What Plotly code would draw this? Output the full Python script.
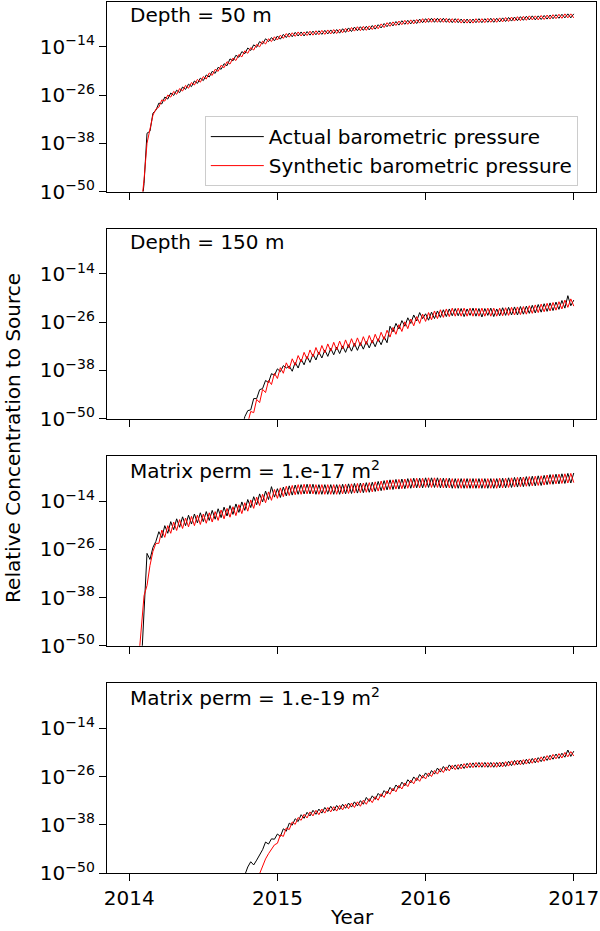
import plotly.graph_objects as go
from plotly.subplots import make_subplots

# sample times (decimal year)
years = [
    2014.00, 2014.02, 2014.04, 2014.06, 2014.08, 2014.10, 2014.12, 2014.14, 2014.16, 2014.18,
    2014.20, 2014.22, 2014.24, 2014.26, 2014.28, 2014.30, 2014.32, 2014.34, 2014.36, 2014.38,
    2014.40, 2014.42, 2014.44, 2014.46, 2014.48, 2014.50, 2014.52, 2014.54, 2014.56, 2014.58,
    2014.60, 2014.62, 2014.64, 2014.66, 2014.68, 2014.70, 2014.72, 2014.74, 2014.76, 2014.78,
    2014.80, 2014.82, 2014.84, 2014.86, 2014.88, 2014.90, 2014.92, 2014.94, 2014.96, 2014.98,
    2015.00, 2015.02, 2015.04, 2015.06, 2015.08, 2015.10, 2015.12, 2015.14, 2015.16, 2015.18,
    2015.20, 2015.22, 2015.24, 2015.26, 2015.28, 2015.30, 2015.32, 2015.34, 2015.36, 2015.38,
    2015.40, 2015.42, 2015.44, 2015.46, 2015.48, 2015.50, 2015.52, 2015.54, 2015.56, 2015.58,
    2015.60, 2015.62, 2015.64, 2015.66, 2015.68, 2015.70, 2015.72, 2015.74, 2015.76, 2015.78,
    2015.80, 2015.82, 2015.84, 2015.86, 2015.88, 2015.90, 2015.92, 2015.94, 2015.96, 2015.98,
    2016.00, 2016.02, 2016.04, 2016.06, 2016.08, 2016.10, 2016.12, 2016.14, 2016.16, 2016.18,
    2016.20, 2016.22, 2016.24, 2016.26, 2016.28, 2016.30, 2016.32, 2016.34, 2016.36, 2016.38,
    2016.40, 2016.42, 2016.44, 2016.46, 2016.48, 2016.50, 2016.52, 2016.54, 2016.56, 2016.58,
    2016.60, 2016.62, 2016.64, 2016.66, 2016.68, 2016.70, 2016.72, 2016.74, 2016.76, 2016.78,
    2016.80, 2016.82, 2016.84, 2016.86, 2016.88, 2016.90, 2016.92, 2016.94, 2016.96, 2016.98,
    2017.00,
]

# log10 of relative concentration to source
actual_50m = [
    None, None, None, None, -55.0, -48.0, -35.5, -35.0, -30.5, -29.8,
    -28.0, -28.2, -26.5, -27.0, -25.5, -26.1, -24.8, -25.4, -24.0, -24.6,
    -23.3, -23.9, -22.5, -23.1, -21.8, -22.4, -21.0, -21.5, -20.1, -20.6,
    -19.1, -19.6, -18.2, -18.7, -17.0, -17.5, -16.1, -16.6, -15.2, -15.7,
    -14.3, -14.9, -13.5, -14.1, -12.7, -13.3, -12.0, -12.7, -11.7, -12.5,
    -11.3, -12.1, -10.9, -11.7, -10.6, -11.5, -10.4, -11.3, -10.3, -11.3,
    -10.2, -11.1, -10.1, -11.0, -10.0, -10.9, -9.9, -10.8, -9.8, -10.7,
    -9.7, -10.6, -9.5, -10.4, -9.3, -10.2, -9.1, -10.0, -9.0, -9.9,
    -8.9, -9.8, -8.7, -9.6, -8.5, -9.3, -8.2, -9.0, -7.9, -8.8,
    -7.7, -8.6, -7.5, -8.4, -7.4, -8.3, -7.3, -8.2, -7.1, -8.0,
    -7.0, -7.9, -6.9, -7.9, -6.9, -7.9, -6.9, -7.9, -7.0, -8.0,
    -7.0, -8.0, -7.1, -8.1, -7.1, -8.1, -7.1, -8.0, -7.0, -8.0,
    -7.0, -7.9, -6.9, -7.9, -6.9, -7.8, -6.8, -7.7, -6.7, -7.6,
    -6.6, -7.5, -6.5, -7.4, -6.4, -7.3, -6.3, -7.3, -6.3, -7.2,
    -6.2, -7.1, -6.1, -7.0, -6.0, -6.9, -5.9, -6.8, -5.8, -6.8,
    -5.8,
]
synthetic_50m = [
    None, None, None, None, -54.0, -47.0, -38.0, -34.0, -31.0, -29.5,
    -29.0, -27.2, -27.5, -26.0, -26.5, -25.1, -25.8, -24.4, -25.0, -23.6,
    -24.3, -22.9, -23.5, -22.1, -22.8, -21.4, -22.0, -20.5, -21.1, -19.6,
    -20.1, -18.6, -19.2, -17.7, -18.3, -16.8, -17.4, -15.9, -16.5, -15.0,
    -15.6, -14.2, -14.8, -13.4, -14.0, -12.6, -13.3, -12.0, -12.7, -11.5,
    -12.3, -11.1, -11.9, -10.7, -11.6, -10.5, -11.4, -10.3, -11.3, -10.3,
    -11.2, -10.1, -11.1, -10.0, -11.0, -9.9, -10.9, -9.8, -10.8, -9.7,
    -10.7, -9.6, -10.5, -9.4, -10.3, -9.2, -10.1, -9.0, -10.0, -8.9,
    -9.9, -8.8, -9.7, -8.6, -9.5, -8.3, -9.2, -8.0, -8.9, -7.8,
    -8.7, -7.6, -8.5, -7.4, -8.4, -7.3, -8.3, -7.2, -8.1, -7.0,
    -8.0, -6.9, -7.9, -6.9, -7.9, -6.9, -7.9, -6.9, -8.0, -7.0,
    -8.0, -7.0, -8.1, -7.1, -8.1, -7.1, -8.1, -7.0, -8.0, -7.0,
    -8.0, -6.9, -7.9, -6.9, -7.9, -6.8, -7.8, -6.7, -7.7, -6.6,
    -7.6, -6.5, -7.5, -6.4, -7.4, -6.3, -7.3, -6.3, -7.3, -6.2,
    -7.2, -6.1, -7.1, -6.0, -7.0, -5.9, -6.9, -5.8, -6.8, -5.8,
    -6.8,
]

actual_150m = [
    None, None, None, None, None, None, None, None, None, None,
    None, None, None, None, None, None, None, None, None, None,
    None, None, None, None, None, None, None, None, None, None,
    None, None, None, None, None, None, None, None, -52.5, -49.5,
    -48.0, -47.8, -45.0, -45.0, -42.8, -42.5, -40.5, -41.0, -38.8, -39.2,
    -37.6, -38.3, -36.8, -37.4, -36.9, -38.2, -36.0, -37.4, -35.2, -36.6,
    -34.5, -36.0, -33.9, -35.4, -33.4, -34.9, -32.9, -34.5, -32.5, -34.1,
    -32.2, -33.8, -31.9, -33.5, -31.6, -33.2, -31.3, -33.0, -31.1, -32.7,
    -30.8, -32.4, -30.5, -32.1, -30.1, -31.6, -29.6, -31.1, -27.0, -28.4,
    -26.3, -27.7, -25.6, -27.0, -24.9, -26.3, -24.2, -25.7, -23.6, -25.1,
    -23.9, -25.5, -23.5, -25.1, -23.2, -24.8, -22.9, -24.6, -22.7, -24.4,
    -22.6, -24.4, -22.6, -24.6, -22.7, -24.3, -22.5, -24.5, -22.6, -24.7,
    -22.6, -24.3, -22.5, -24.6, -22.7, -24.4, -22.4, -24.3, -22.3, -24.2,
    -22.2, -24.2, -22.1, -24.0, -22.0, -23.8, -21.8, -23.7, -21.6, -23.5,
    -21.4, -23.3, -21.2, -23.1, -21.0, -22.8, -20.6, -22.5, -19.4, -21.9,
    -20.5,
]
synthetic_150m = [
    None, None, None, None, None, None, None, None, None, None,
    None, None, None, None, None, None, None, None, None, None,
    None, None, None, None, None, None, None, None, None, None,
    None, None, None, None, None, None, None, None, None, None,
    -51.0, -48.2, -48.5, -45.2, -46.0, -42.7, -43.5, -40.5, -41.5, -38.7,
    -40.0, -37.3, -38.7, -36.1, -37.6, -35.1, -36.7, -34.3, -35.9, -33.5,
    -35.2, -32.9, -34.6, -32.3, -34.1, -31.8, -33.6, -31.4, -33.2, -31.0,
    -32.9, -30.7, -32.6, -30.4, -32.3, -30.1, -32.0, -29.9, -31.8, -29.6,
    -31.5, -29.3, -31.2, -29.0, -30.8, -28.5, -30.3, -28.0, -29.7, -27.3,
    -29.0, -26.6, -28.3, -25.9, -27.6, -25.2, -26.9, -24.6, -26.3, -24.0,
    -25.8, -23.6, -25.4, -23.2, -25.1, -22.9, -24.8, -22.7, -24.6, -22.5,
    -24.5, -22.5, -24.5, -22.5, -24.5, -22.5, -24.5, -22.5, -24.5, -22.5,
    -24.5, -22.5, -24.5, -22.5, -24.5, -22.5, -24.4, -22.4, -24.3, -22.3,
    -24.2, -22.2, -24.1, -22.1, -24.0, -21.9, -23.8, -21.7, -23.6, -21.5,
    -23.4, -21.3, -23.2, -21.1, -23.0, -20.9, -22.7, -20.5, -22.3, -20.2,
    -22.0,
]

actual_k17 = [
    None, None, None, None, -56.0, -40.0, -27.0, -28.5, -25.5, -24.0,
    -21.6, -23.1, -20.1, -22.0, -19.1, -21.1, -18.4, -20.5, -17.9, -20.1,
    -17.5, -19.7, -17.2, -19.4, -16.9, -19.1, -16.6, -18.8, -16.3, -18.5,
    -15.9, -18.1, -15.5, -17.7, -15.1, -17.3, -14.7, -16.8, -14.2, -16.3,
    -13.6, -15.6, -12.9, -14.9, -12.2, -14.2, -11.5, -13.6, -10.4, -13.0,
    -10.9, -13.1, -10.5, -12.7, -10.2, -12.5, -10.0, -12.3, -9.9, -12.2,
    -9.8, -12.2, -9.8, -12.3, -9.9, -12.3, -9.9, -12.3, -9.9, -12.3,
    -9.9, -12.3, -9.8, -12.2, -9.7, -12.1, -9.6, -12.0, -9.5, -11.9,
    -9.4, -11.8, -9.3, -11.6, -9.1, -11.4, -8.9, -11.2, -8.7, -11.1,
    -8.6, -11.0, -8.5, -10.9, -8.4, -10.8, -8.3, -10.7, -8.3, -10.7,
    -8.2, -10.6, -8.2, -10.6, -8.2, -10.7, -8.3, -10.7, -8.3, -10.8,
    -8.4, -10.8, -8.4, -10.8, -8.4, -10.8, -8.4, -10.8, -8.4, -10.8,
    -8.4, -10.8, -8.4, -10.8, -8.4, -10.7, -8.3, -10.7, -8.2, -10.6,
    -8.1, -10.5, -8.0, -10.4, -7.9, -10.3, -7.8, -10.2, -7.7, -10.1,
    -7.6, -9.9, -7.4, -9.8, -7.3, -9.7, -7.2, -9.6, -7.1, -9.5,
    -7.0,
]
synthetic_k17 = [
    None, None, None, -55.0, -45.0, -37.5, -35.0, -30.0, -26.5, -24.5,
    -24.5, -21.2, -23.0, -20.1, -22.0, -19.2, -21.3, -18.6, -20.8, -18.2,
    -20.4, -17.8, -20.1, -17.5, -19.8, -17.2, -19.5, -16.9, -19.2, -16.6,
    -18.8, -16.2, -18.4, -15.8, -18.0, -15.4, -17.6, -14.9, -17.1, -14.4,
    -16.5, -13.7, -15.8, -13.0, -15.1, -12.3, -14.4, -11.7, -13.8, -11.1,
    -13.3, -10.7, -12.9, -10.3, -12.6, -10.1, -12.4, -9.9, -12.3, -9.8,
    -12.2, -9.8, -12.2, -9.9, -12.3, -9.9, -12.3, -9.9, -12.3, -9.9,
    -12.3, -9.9, -12.2, -9.8, -12.1, -9.7, -12.0, -9.6, -11.9, -9.5,
    -11.8, -9.4, -11.7, -9.2, -11.5, -9.0, -11.3, -8.8, -11.1, -8.7,
    -11.0, -8.6, -10.9, -8.5, -10.8, -8.4, -10.7, -8.3, -10.7, -8.3,
    -10.6, -8.2, -10.6, -8.2, -10.6, -8.3, -10.7, -8.3, -10.7, -8.4,
    -10.8, -8.4, -10.8, -8.4, -10.8, -8.4, -10.8, -8.4, -10.8, -8.4,
    -10.8, -8.4, -10.8, -8.4, -10.8, -8.3, -10.7, -8.3, -10.6, -8.2,
    -10.5, -8.1, -10.4, -8.0, -10.3, -7.9, -10.2, -7.8, -10.1, -7.7,
    -10.0, -7.5, -9.8, -7.4, -9.7, -7.3, -9.6, -7.2, -9.5, -7.1,
    -9.4,
]

actual_k19 = [
    None, None, None, None, None, None, None, None, None, None,
    None, None, None, None, None, None, None, None, None, None,
    None, None, None, None, None, None, None, None, None, None,
    None, None, None, None, None, None, None, None, None, -50.5,
    -48.5, -47.2, -48.0, -46.8, -45.5, -44.2, -42.3, -42.8, -41.5, -41.6,
    -40.3, -40.9, -39.0, -39.6, -37.6, -38.1, -36.5, -37.2, -35.5, -36.4,
    -34.9, -35.8, -34.4, -35.4, -34.1, -35.1, -33.7, -34.7, -33.4, -34.5,
    -33.2, -34.2, -32.9, -33.9, -32.6, -33.6, -32.3, -33.3, -32.0, -32.9,
    -31.2, -32.2, -30.8, -31.7, -30.2, -31.0, -29.5, -30.3, -28.7, -29.6,
    -28.1, -28.9, -27.4, -28.3, -26.8, -27.6, -26.1, -27.0, -25.5, -26.4,
    -25.1, -26.0, -24.5, -25.4, -23.9, -24.9, -23.5, -24.5, -23.1, -24.1,
    -23.1, -24.2, -22.9, -24.0, -22.7, -23.8, -22.6, -23.7, -22.5, -23.7,
    -22.5, -23.7, -22.5, -23.7, -22.5, -23.6, -22.4, -23.5, -22.2, -23.3,
    -22.0, -23.1, -21.9, -23.0, -21.7, -22.8, -21.5, -22.6, -21.3, -22.3,
    -21.0, -22.0, -20.7, -21.7, -20.4, -21.5, -20.2, -21.2, -19.4, -21.0,
    -19.7,
]
synthetic_k19 = [
    None, None, None, None, None, None, None, None, None, None,
    None, None, None, None, None, None, None, None, None, None,
    None, None, None, None, None, None, None, None, None, None,
    None, None, None, None, None, None, None, None, None, None,
    None, None, None, -52.0, -50.0, -48.2, -46.5, -45.2, -44.0, -43.0,
    -42.6, -40.5, -40.9, -38.8, -39.2, -37.3, -37.9, -36.2, -36.9, -35.4,
    -36.3, -34.8, -35.8, -34.4, -35.5, -34.1, -35.1, -33.7, -34.8, -33.5,
    -34.6, -33.2, -34.3, -32.9, -34.0, -32.6, -33.7, -32.3, -33.4, -31.9,
    -32.9, -31.5, -32.5, -31.0, -31.9, -30.3, -31.2, -29.6, -30.4, -28.9,
    -29.8, -28.2, -29.1, -27.6, -28.5, -26.9, -27.8, -26.3, -27.2, -25.7,
    -26.6, -25.1, -26.0, -24.5, -25.4, -24.0, -25.0, -23.6, -24.6, -23.2,
    -24.3, -23.0, -24.1, -22.8, -23.9, -22.6, -23.8, -22.5, -23.7, -22.5,
    -23.7, -22.5, -23.7, -22.5, -23.7, -22.4, -23.6, -22.3, -23.4, -22.1,
    -23.2, -21.9, -23.1, -21.8, -22.9, -21.6, -22.7, -21.4, -22.5, -21.1,
    -22.2, -20.8, -21.9, -20.5, -21.6, -20.3, -21.4, -20.0, -21.1, -19.8,
    -20.9,
]

panel_labels = [
    "Depth = 50 m",
    "Depth = 150 m",
    "Matrix perm = 1.e-17 m<sup>2</sup>",
    "Matrix perm = 1.e-19 m<sup>2</sup>",
]
series = [
    (actual_50m, synthetic_50m),
    (actual_150m, synthetic_150m),
    (actual_k17, synthetic_k17),
    (actual_k19, synthetic_k19),
]
ytick_exps = [-50, -38, -26, -14]
xtick_years = [2014, 2015, 2016, 2017]


def to_conc(exps):
    return [None if e is None else 10.0 ** e for e in exps]


FONT = "DejaVu Sans"

fig = make_subplots(rows=4, cols=1, shared_xaxes=True, vertical_spacing=0.0432)

for row, (actual, synth) in enumerate(series, start=1):
    if len(actual) != len(years) or len(synth) != len(years):
        raise ValueError("row %d: %d / %d vs %d" % (row, len(actual), len(synth), len(years)))
    fig.add_trace(go.Scatter(
        x=years, y=to_conc(actual), mode="lines",
        line=dict(color="black", width=1),
        name="Actual barometric pressure", showlegend=(row == 1),
    ), row=row, col=1)
    fig.add_trace(go.Scatter(
        x=years, y=to_conc(synth), mode="lines",
        line=dict(color="#ff0000", width=1),
        name="Synthetic barometric pressure", showlegend=(row == 1),
    ), row=row, col=1)
    fig.add_annotation(
        text=panel_labels[row - 1], xref="x domain", yref="y domain",
        x=0.042, y=0.93, xanchor="left", yanchor="middle", showarrow=False,
        font=dict(family=FONT, size=20, color="black"),
        row=row, col=1,
    )

fig.update_yaxes(
    type="log", range=[-50, -2.85],
    tickvals=[10.0 ** e for e in ytick_exps],
    ticktext=["10<sup>\u2212%d</sup>" % -e for e in ytick_exps],
    ticks="outside", ticklen=7, tickwidth=1.3, tickcolor="black",
    showline=True, linecolor="black", linewidth=1.3, mirror=True,
    showgrid=False, zeroline=False,
    tickfont=dict(family=FONT, size=20, color="black"),
)
fig.update_xaxes(
    range=[2013.85, 2017.15], tickvals=xtick_years,
    ticktext=[str(y) for y in xtick_years],
    ticks="outside", ticklen=7, tickwidth=1.3, tickcolor="black",
    showline=True, linecolor="black", linewidth=1.3, mirror=True,
    showgrid=False, zeroline=False, ticklabeloverflow="allow",
    tickfont=dict(family=FONT, size=20, color="black"),
)

fig.add_annotation(
    text="Relative Concentration to Source", xref="paper", yref="paper",
    x=-0.1935, y=0.5, textangle=-90, showarrow=False,
    xanchor="center", yanchor="middle",
    font=dict(family=FONT, size=20, color="black"),
)
fig.add_annotation(
    text="Year", xref="paper", yref="paper",
    x=0.5, y=-0.0505, showarrow=False, xanchor="center", yanchor="middle",
    font=dict(family=FONT, size=20, color="black"),
)

fig.update_layout(
    width=600, height=931,
    margin=dict(l=107, r=2, t=1, b=58),
    plot_bgcolor="white", paper_bgcolor="white",
    font=dict(family=FONT, size=20, color="black"),
    legend=dict(
        x=0.2, y=0.869, xanchor="left", yanchor="top",
        bgcolor="rgba(255,255,255,0.8)", bordercolor="#cccccc", borderwidth=1,
        font=dict(family=FONT, size=20, color="black"),
        itemwidth=53, tracegroupgap=0,
    ),
)

fig.write_html(
    "out.html",
    config={"displayModeBar": False},
    post_script="document.body.style.margin='0px';",
)
